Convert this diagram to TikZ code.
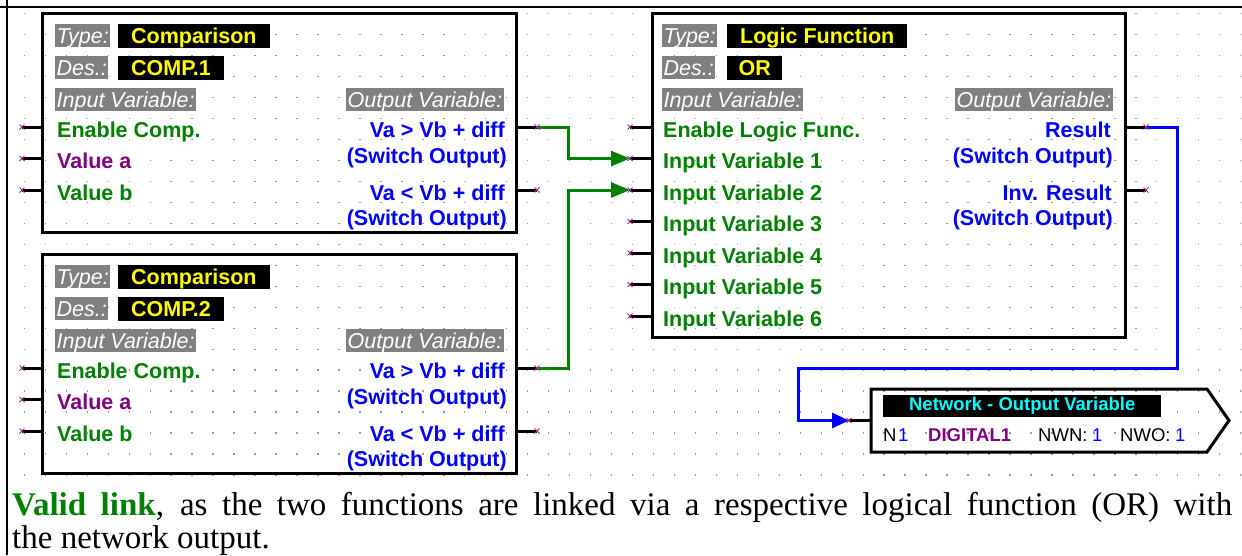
\documentclass[tikz,border=0pt]{standalone}
\usepackage{fontspec}
\setmainfont{Liberation Serif}
\newfontfamily\arialf{Liberation Sans}
\usetikzlibrary{arrows.meta}
\definecolor{fgreen}{RGB}{0,128,0}
\definecolor{fpurple}{RGB}{128,0,128}
\definecolor{fblue}{RGB}{0,0,255}
\definecolor{fgray}{RGB}{128,128,128}
\definecolor{fyellow}{RGB}{255,255,0}
\definecolor{fcyan}{RGB}{0,255,255}
\definecolor{pinx}{RGB}{160,40,140}
\definecolor{dotc}{RGB}{150,150,150}
\newcommand\dfont{\arialf\fontsize{21.5}{24}\selectfont}
\newcommand\nfont{\arialf\fontsize{18.5}{21}\selectfont}
\tikzset{
 lbl/.style={fill=fgray, text=white, font=\dfont\itshape, inner xsep=1.5pt, inner ysep=0pt, text height=19pt, text depth=4pt, anchor=west},
 val/.style={fill=black, text=fyellow, font=\dfont\bfseries, inner xsep=13pt, inner ysep=0pt, text height=19.5pt, text depth=4.5pt, anchor=west},
 gtxt/.style={text=fgreen, font=\dfont\bfseries, anchor=base west, inner sep=0pt},
 ptxt/.style={text=fpurple, font=\dfont\bfseries, anchor=base west, inner sep=0pt},
 btxt/.style={text=fblue, font=\dfont\bfseries, anchor=base east, inner sep=0pt},
 blockbox/.style={draw=black, line width=3pt, inner sep=0pt},
 stub/.style={draw=black, line width=3pt},
 gwire/.style={draw=fgreen, line width=3pt, -{Triangle[length=19pt,width=15pt]}},
 bwire/.style={draw=fblue, line width=3pt, -{Triangle[length=17pt,width=15pt]}},
 xmark/.style={draw=pinx, line width=0.9pt},
 nwtxt/.style={font=\nfont, anchor=base west, inner sep=0pt},
 captxt/.style={anchor=base west, inner sep=0pt, font=\rmfamily\fontsize{33}{36}\selectfont},
}
\newcommand\compblock[2]{%
\begin{scope}[shift={(0,#1)}]
\node[blockbox, minimum width=474pt, minimum height=219pt] (b#2) at (279,122.5) {};
\node[lbl] (b#2tl) at (55,35.5) {Type:};
\node[val] (b#2tv) at (118,35.5) {Comparison};
\node[lbl] (b#2dl) at (55,67.5) {Des.:};
\node[val] (b#2dv) at (118,67.5) {COMP.#2};
\node[lbl] (b#2il) at (55,99.5) {Input Variable:};
\node[lbl, anchor=east] (b#2ol) at (504,99.5) {Output Variable:};
\node[gtxt] (b#2t1) at (57,137) {Enable Comp.};
\node[ptxt] (b#2t2) at (57,168.5) {Value a};
\node[gtxt] (b#2t3) at (57,200) {Value b};
\node[btxt] (b#2u1) at (505,137) {Va > Vb + diff};
\node[btxt] (b#2s1) at (507,163.5) {(Switch Output)};
\node[btxt] (b#2u2) at (505,200) {Va < Vb + diff};
\node[btxt] (b#2s2) at (507,225.5) {(Switch Output)};
\coordinate (b#2i1) at (22,127);
\coordinate (b#2i2) at (22,158.5);
\coordinate (b#2i3) at (22,190);
\coordinate (b#2o1) at (537,127);
\coordinate (b#2o2) at (537,190);
\foreach \p in {i1,i2,i3} \draw[stub] (b#2\p) -- (b#2\p -| b#2.west);
\foreach \p in {o1,o2} \draw[stub] (b#2\p) -- (b#2\p -| b#2.east);
\end{scope}}
\begin{document}
\begin{tikzpicture}[x=1pt,y=-1pt]
\useasboundingbox (0,0) rectangle (1242,555);
% grid dots
\foreach \i in {0,...,58} \foreach \j in {0,...,22}
  \fill[dotc] (23.7+20.97*\i,13+20.97*\j) rectangle ++(1.4,1.4);
% frame lines
\draw[line width=2pt] (0,6.5) -- (1242,6.5);
\draw[line width=2pt] (6.5,0) -- (6.5,555);
% comparison blocks
\compblock{0}{1}
\compblock{241}{2}
% logic function block
\node[blockbox, minimum width=473pt, minimum height=324pt] (lf) at (888.5,175) {};
\node[lbl] (lftl) at (662,35.5) {Type:};
\node[val] (lftv) at (727,35.5) {Logic Function};
\node[lbl] (lfdl) at (662,67.5) {Des.:};
\node[val, inner xsep=11.5pt] (lfdv) at (727,67.5) {OR};
\node[lbl] (lfil) at (662,99.5) {Input Variable:};
\node[lbl, anchor=east] (lfol) at (1113,99.5) {Output Variable:};
\foreach \n/\y/\t in {0/127/Enable Logic Func., 1/158.5/Input Variable 1, 2/190/Input Variable 2, 3/221.5/Input Variable 3, 4/253/Input Variable 4, 5/284.5/Input Variable 5, 6/316/Input Variable 6}{
  \node[gtxt] (lft\n) at (663,\y+10) {\t};
  \coordinate (lfi\n) at (630,\y);
  \draw[stub] (lfi\n) -- (lfi\n -| lf.west);
}
\node[btxt] (lfr1) at (1111,137) {Result};
\node[btxt] (lfs1) at (1113,163.5) {(Switch Output)};
\node[btxt] (lfr2) at (1112,200) {Inv. Result};
\node[btxt] (lfs2) at (1113,225.5) {(Switch Output)};
\coordinate (lfo1) at (1146,127);
\coordinate (lfo2) at (1146,190);
\foreach \p in {lfo1,lfo2} \draw[stub] (\p) -- (\p -| lf.east);
% network output box
\draw[line width=3pt, line join=miter] (871,389) -- (1207,389) -- (1229,420.5) -- (1207,452) -- (871,452) -- cycle;
\coordinate (nw) at (871,420.5);
\node[fill=black, text=fcyan, font=\nfont\bfseries, minimum width=278pt, minimum height=22pt, inner sep=0pt, anchor=west] (nwh) at (883,406) {Network - Output Variable};
\node[nwtxt] (nwn) at (883,441) {N};
\node[nwtxt, text=fblue] (nwn1) at (898,441) {1};
\node[nwtxt, text=fpurple, font=\nfont\bfseries] (nwd) at (928,441) {DIGITAL1};
\node[nwtxt] (nwwn) at (1038,441) {NWN:};
\node[nwtxt, text=fblue] (nwwn1) at (1092,441) {1};
\node[nwtxt] (nwwo) at (1120,441) {NWO:};
\node[nwtxt, text=fblue] (nwwo1) at (1175,441) {1};
\coordinate (nwpin) at (849,420.5);
\draw[stub] (nwpin) -- (nw);
% wires
\coordinate (j1) at (568,0);
\coordinate (j2) at (1177,368);
\coordinate (j3) at (798,368);
\draw[gwire] (b1o1) -| (j1 |- lfi1) -- (lfi1);
\draw[gwire] (b2o1) -| (j1 |- lfi2) -- (lfi2);
\draw[bwire] (lfo1) -| (j2) -- (j3) |- (nwpin);
% pin crosses
\foreach \p in {b1i1,b1i2,b1i3,b1o1,b1o2,b2i1,b2i2,b2i3,b2o1,b2o2,lfi0,lfi1,lfi2,lfi3,lfi4,lfi5,lfi6,lfo1,lfo2,nwpin}
  \draw[xmark] (\p) +(-2.5,-2.5) -- +(2.5,2.5) +(-2.5,2.5) -- +(2.5,-2.5);
% caption
\node[captxt] (cap1) at (12,515)
  {\makebox[1220pt][s]{\textcolor{fgreen}{\textbf{Valid link}}, as the two functions are linked via a respective logical function (OR) with}};
\node[captxt] (cap2) at (12,548) {the network output.};
\end{tikzpicture}
\end{document}
